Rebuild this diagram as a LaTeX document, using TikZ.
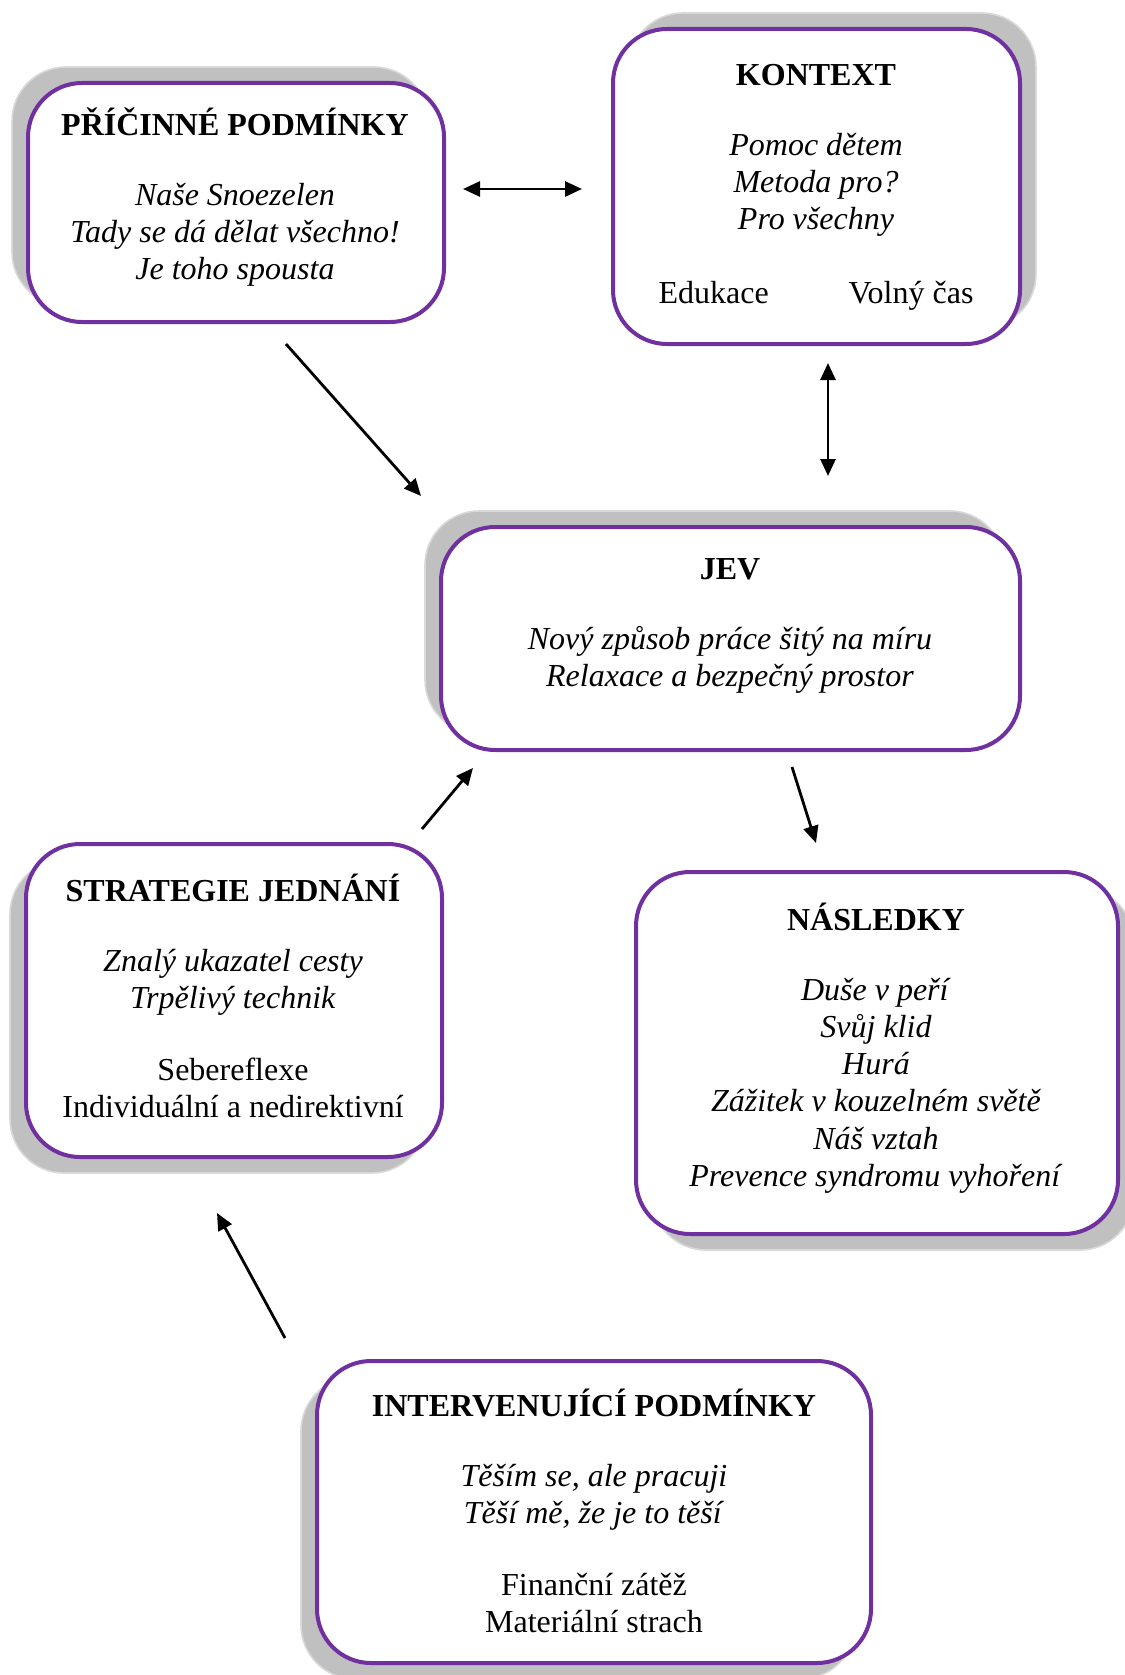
\documentclass[tikz,border=0pt]{standalone}
\usepackage{fontspec}
\setmainfont{Liberation Serif}
\usetikzlibrary{arrows.meta,shadows}
\definecolor{boxpurple}{HTML}{7030A0}
\definecolor{shadowgray}{HTML}{C0C0C0}
\definecolor{shadowedge}{HTML}{D9D9D9}

\begin{document}
\begin{tikzpicture}[x=0.5pt,y=-0.5pt,
  box/.style={draw=boxpurple, line width=2pt, fill=white, rounded corners=27pt, inner sep=0pt},
  shadowul/.style={general shadow={fill=shadowgray, draw=shadowedge, line width=0.8pt, shadow xshift=-8pt, shadow yshift=8pt}},
  shadowur/.style={general shadow={fill=shadowgray, draw=shadowedge, line width=0.8pt, shadow xshift=8pt, shadow yshift=8pt}},
  shadowll/.style={general shadow={fill=shadowgray, draw=shadowedge, line width=0.8pt, shadow xshift=-8pt, shadow yshift=-8pt}},
  shadowlr/.style={general shadow={fill=shadowgray, draw=shadowedge, line width=0.8pt, shadow xshift=8pt, shadow yshift=-8pt}},
  txt/.style={align=center, inner sep=0pt, font=\fontsize{16}{18.6}\selectfont},
  arr/.style={line width=1.4pt},
  >={Triangle[length=8.5pt,width=7.5pt]}]
\useasboundingbox (0,0) rectangle (1124,1675);

% boxes
\node[box, shadowul, minimum width=208pt, minimum height=119.5pt] (pricinne) at (236,202.5) {};
\node[box, shadowur, minimum width=203.5pt, minimum height=157.5pt] (kontext) at (816.5,186.5) {};
\node[box, shadowul, minimum width=289.5pt, minimum height=111.5pt] (jev) at (730.5,638.5) {};
\node[box, shadowll, minimum width=208pt, minimum height=156.5pt] (strategie) at (234,1000.5) {};
\node[box, shadowlr, minimum width=241pt, minimum height=181pt] (nasledky) at (877,1053) {};
\node[box, shadowll, minimum width=277pt, minimum height=151pt] (intervenujici) at (594,1512) {};

% texts
\node[txt] (pricinne-txt) at (235,197) {\textbf{PŘÍČINNÉ PODMÍNKY}\\[16.5pt]
  \textit{Naše Snoezelen}\\ \textit{Tady se dá dělat všechno!}\\ \textit{Je toho spousta}};
\node[txt] (kontext-txt) at (816,187) {\textbf{KONTEXT}\\[16.5pt]
  \textit{Pomoc dětem}\\ \textit{Metoda pro?}\\ \textit{Pro všechny}\\[18pt]
  Edukace\hspace{40pt}Volný čas};
\node[txt] (jev-txt) at (730,626) {\textbf{JEV}\\[16.5pt]
  \textit{Nový způsob práce šitý na míru}\\ \textit{Relaxace a bezpečný prostor}};
\node[txt] (strategie-txt) at (233,996) {\textbf{STRATEGIE JEDNÁNÍ}\\[16.5pt]
  \textit{Znalý ukazatel cesty}\\ \textit{Trpělivý technik}\\[17.5pt]
  Sebereflexe\\ Individuální a nedirektivní};
\node[txt] (nasledky-txt) at (876,1048) {\textbf{NÁSLEDKY}\\[16.5pt]
  \textit{Duše v peří}\\ \textit{Svůj klid}\\ \textit{Hurá}\\
  \textit{Zážitek v kouzelném světě}\\ \textit{Náš vztah}\\ \textit{Prevence syndromu vyhoření}};
\node[txt] (intervenujici-txt) at (594,1511) {\textbf{INTERVENUJÍCÍ PODMÍNKY}\\[16.5pt]
  \textit{Těším se, ale pracuji}\\ \textit{Těší mě, že je to těší}\\[17.5pt]
  Finanční zátěž\\ Materiální strach};

% arrow ends
\coordinate (pk-l) at (463,189);
\coordinate (pk-r) at (582,189);
\coordinate (kj-t) at (828,363);
\coordinate (kj-b) at (828,476);
\coordinate (pj-s) at (286,344);
\coordinate (pj-e) at (421,496);
\coordinate (sj-s) at (422,829);
\coordinate (sj-e) at (473,768);
\coordinate (jn-s) at (792,767);
\coordinate (jn-e) at (816,843);
\coordinate (is-s) at (285,1338);
\coordinate (is-e) at (217,1213);

% arrows
\draw[arr, <->] (pk-l) -- (pk-r);
\draw[arr, <->] (kj-t) -- (kj-b);
\draw[arr, ->] (pj-s) -- (pj-e);
\draw[arr, ->] (sj-s) -- (sj-e);
\draw[arr, ->] (jn-s) -- (jn-e);
\draw[arr, ->] (is-s) -- (is-e);
\end{tikzpicture}
\end{document}
